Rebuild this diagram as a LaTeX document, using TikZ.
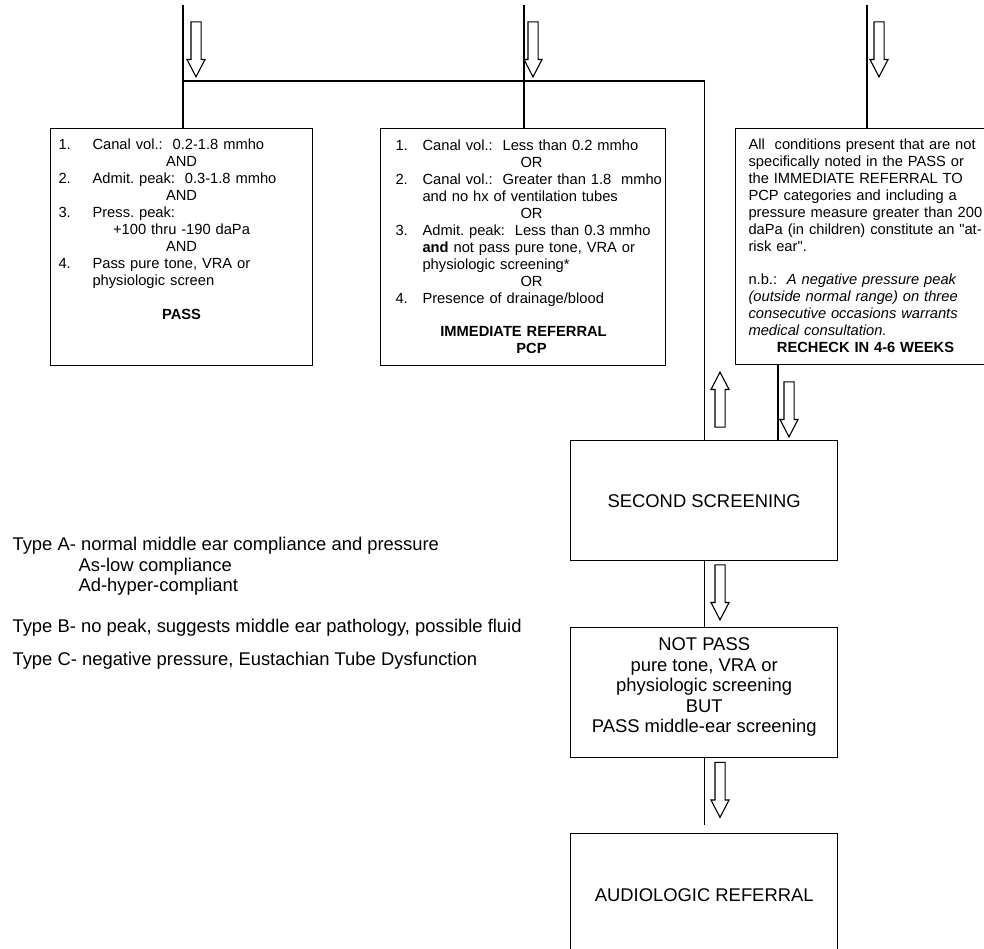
\documentclass[tikz,border=0pt]{standalone}
\usepackage{fontspec}
\setmainfont{Liberation Sans}
\usetikzlibrary{shapes.arrows}
\frenchspacing
\newcommand\boxfont{\fontsize{14.7}{17}\selectfont}
\newcommand\bigfont{\fontsize{18.4}{20.5}\selectfont}
\tikzset{
  box/.style={draw,line width=1.4pt,inner sep=0pt,anchor=north west},
  boxtext/.style={inner sep=0pt,anchor=north west,align=left,font=\boxfont},
  hollow/.style={single arrow,draw,line width=1.1pt,inner xsep=0pt,inner ysep=4.5pt,
    minimum height=55pt,minimum width=17pt,single arrow head extend=4pt,
    single arrow tip angle=55},
}
\begin{document}
\begin{tikzpicture}[x=1pt,y=-1pt,line width=1.1pt]
\clip (0,0) rectangle (984,949);
% the three outcomes
\node[box,minimum width=262,minimum height=237] (pass) at (50,128) {};
\node[box,minimum width=285,minimum height=237] (refer) at (380,128) {};
\node[box,minimum width=265,minimum height=236] (recheck) at (735,128) {};
\node[boxtext,text width=260pt] (passtxt) at (58,137) {\strut
  \makebox[34pt][l]{1.}Canal vol.:~ 0.2-1.8 mmho\\
  \makebox[246pt]{AND}\\
  \makebox[34pt][l]{2.}Admit. peak:~ 0.3-1.8 mmho\\
  \makebox[246pt]{AND}\\
  \makebox[34pt][l]{3.}Press. peak:\\
  \makebox[246pt]{+100 thru -190 daPa}\\
  \makebox[246pt]{AND}\\
  \makebox[34pt][l]{4.}Pass pure tone, VRA or\\
  \hspace*{34pt}physiologic screen\\[17pt]
  \makebox[246pt]{\textbf{PASS}}};
\node[boxtext,text width=280pt] (refertxt) at (395,138) {\strut
  \makebox[27pt][l]{1.}Canal vol.:~ Less than 0.2 mmho\\
  \makebox[272pt]{OR}\\
  \makebox[27pt][l]{2.}Canal vol.:~ Greater than 1.8~ mmho\\
  \hspace*{27pt}and no hx of ventilation tubes\\
  \makebox[272pt]{OR}\\
  \makebox[27pt][l]{3.}Admit. peak:~ Less than 0.3 mmho\\
  \hspace*{27pt}\textbf{and} not pass pure tone, VRA or\\
  \hspace*{27pt}physiologic screening*\\
  \makebox[272pt]{OR}\\
  \makebox[27pt][l]{4.}Presence of drainage/blood\\[16pt]
  \makebox[256pt]{\textbf{IMMEDIATE REFERRAL}}\\
  \makebox[272pt]{\textbf{PCP}}};
\node[boxtext,text width=250pt] (rechecktxt) at (748,137) {\strut
  All~ conditions present that are not\\
  specifically noted in the PASS or\\
  the IMMEDIATE REFERRAL TO\\
  PCP categories and including a\\
  pressure measure greater than 200\\
  daPa (in children) constitute an \textquotedbl at-\\
  risk ear\textquotedbl.\\[16pt]
  n.b.:~ \textit{A negative pressure peak}\\
  \textit{(outside normal range) on three}\\
  \textit{consecutive occasions warrants}\\
  \textit{medical consultation.}\\
  \makebox[234pt]{\textbf{RECHECK IN 4-6 WEEKS}}};
% second screening and after
\node[box,minimum width=267,minimum height=120,font=\bigfont] (second) at (570,440) {SECOND SCREENING};
\node[box,minimum width=267,minimum height=130] (notpass) at (570,627) {};
\node[font=\bigfont,align=center,inner sep=0pt] (notpasstxt) at ([yshift=5.5]notpass.center)
  {NOT PASS\\pure tone, VRA or\\physiologic screening\\BUT\\PASS middle-ear screening};
\node[box,minimum width=267,minimum height=150] (audio) at (570,833) {};
\node[font=\bigfont,inner sep=0pt] (audiotxt) at ([yshift=-62]audio.north) {AUDIOLOGIC REFERRAL};
% tympanogram types
\node[anchor=north west,inner sep=0pt,align=left,font=\bigfont] (typeA) at (12,535.6)
  {\strut Type A- normal middle ear compliance and pressure\\
   \hspace*{66pt}As-low compliance\\
   \hspace*{66pt}Ad-hyper-compliant};
\node[anchor=base west,inner sep=0pt,font=\bigfont] (typeB) at (12,632.5)
  {Type B- no peak, suggests middle ear pathology, possible fluid};
\node[anchor=base west,inner sep=0pt,font=\bigfont] (typeC) at (12,665.5)
  {Type C- negative pressure, Eustachian Tube Dysfunction};
% connectors
\coordinate (inA) at (183,5);
\coordinate (inB) at (524,5);
\coordinate (inC) at (867,5);
\coordinate (join) at (183,81);
\coordinate (back) at ([xshift=43]recheck.south west);
\draw (inA) -- (inA |- pass.north);
\draw (inB) -- (inB |- refer.north);
\draw (inC) -- (inC |- recheck.north);
\draw (join) -| (second.north);
\draw (back) -- (back |- second.north);
\draw (second.south) -- (notpass.north);
\draw (notpass.south) -- ([yshift=8]audio.north);
% hollow arrows
\node[hollow,rotate=-90] (downA) at (196,44.5) {};
\node[hollow,rotate=-90] (downB) at (533,44.5) {};
\node[hollow,rotate=-90] (downC) at (879,44.5) {};
\node[hollow,rotate=90] (upback) at (720,404.5) {};
\node[hollow,rotate=-90] (downback) at (789,404.5) {};
\node[hollow,rotate=-90] (downsecond) at (720,587.5) {};
\node[hollow,rotate=-90] (downnotpass) at (720,785) {};
\end{tikzpicture}
\end{document}
